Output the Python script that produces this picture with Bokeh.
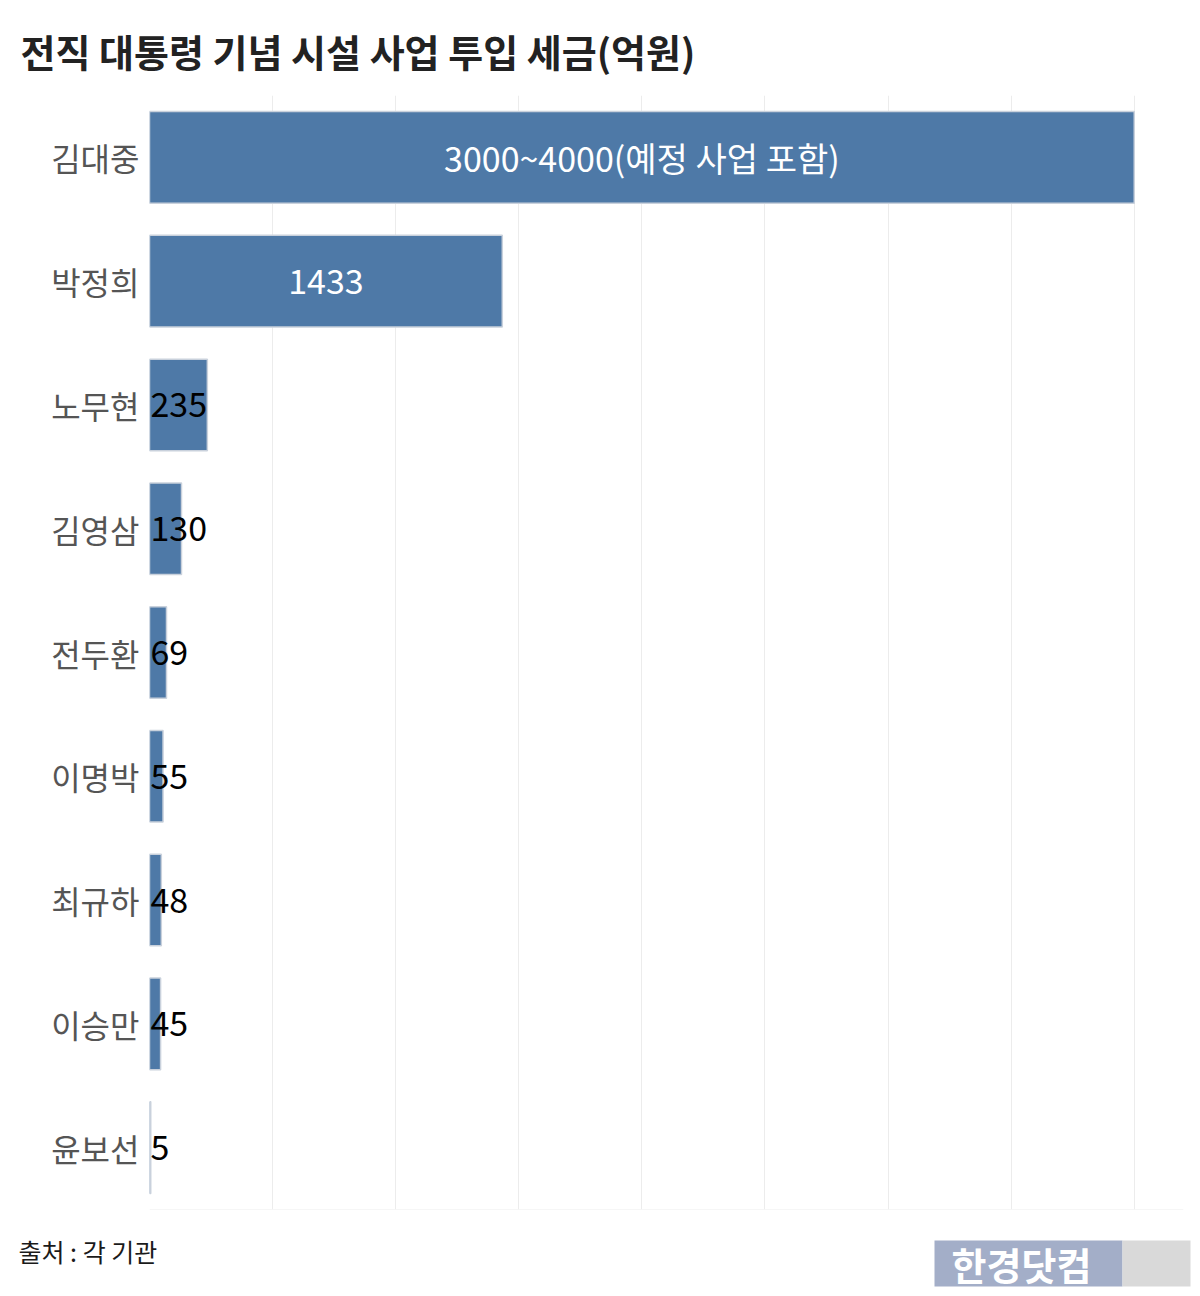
from bokeh.plotting import figure
from bokeh.layouts import column
from bokeh.models import ColumnDataSource, Range1d, FactorRange, Span, SingleIntervalTicker, Title
from bokeh.core.properties import value
from bokeh.embed import file_html
from bokeh.resources import INLINE

FONT = "Noto Sans CJK KR"

names = ["김대중", "박정희", "노무현", "김영삼", "전두환", "이명박", "최규하", "이승만", "윤보선"]
values = [4000, 1433, 235, 130, 69, 55, 48, 45, 5]
labels = ["3000~4000(예정 사업 포함)", "1433", "235", "130", "69", "55", "48", "45", "5"]
title_text = "전직 대통령 기념 시설 사업 투입 세금(억원)"
source_text = "출처 : 각 기관"
logo_text = "한경닷컴"

src = ColumnDataSource(dict(name=names, value=values, label=labels))

big = [i for i, v in enumerate(values) if v >= 1000]
small = [i for i, v in enumerate(values) if v < 1000]
src_in = ColumnDataSource(dict(name=[names[i] for i in big],
                               x=[values[i] / 2 for i in big],
                               label=[labels[i] for i in big]))
src_out = ColumnDataSource(dict(name=[names[i] for i in small],
                                x=[0 for i in small],
                                label=[labels[i] for i in small]))

p = figure(width=1200, height=1210,
           y_range=FactorRange(factors=names[::-1]),
           x_range=Range1d(0, 4200),
           output_backend="svg", toolbar_location=None,
           min_border_left=149, min_border_right=17,
           min_border_top=95, min_border_bottom=1)
p.frame_align = False
p.outline_line_color = None
p.background_fill_color = "white"
p.border_fill_color = "white"

p.hbar(y="name", right="value", left=0, height=0.74, source=src,
       fill_color="#4e79a7", line_color="#c9d1dc", line_width=1.5)

p.text(x="x", y="name", text="label", source=src_in, text_align="center",
       text_baseline="middle", text_color="white", text_font=value(FONT),
       text_font_size="34px")
p.text(x="x", y="name", text="label", source=src_out, text_align="left",
       text_baseline="middle", text_color="black", text_font=value(FONT),
       text_font_size="34px", x_offset=1)

p.xaxis.visible = False
p.xgrid.ticker = SingleIntervalTicker(interval=500)
p.xgrid.grid_line_color = "#ececec"
p.ygrid.grid_line_color = None
p.add_layout(Span(location=0, dimension="width", line_color="#eeeeee", line_width=1))

p.yaxis.axis_line_color = None
p.yaxis.major_tick_line_color = None
p.yaxis.minor_tick_line_color = None
p.yaxis.major_label_text_font = FONT
p.yaxis.major_label_text_font_size = "32px"
p.yaxis.major_label_text_color = "#555555"
p.yaxis.major_label_standoff = 4

p.add_layout(Title(text=title_text, text_font=FONT, text_font_size="38px",
                   text_font_style="bold", text_color="#222222", align="left",
                   offset=-129, standoff=35), "above")

# footer: source note and logo
f = figure(width=1200, height=86, x_range=Range1d(0, 1200), y_range=Range1d(1296, 1210),
           output_backend="svg", toolbar_location=None,
           min_border=0, min_border_left=0, min_border_right=0,
           min_border_top=0, min_border_bottom=0)
f.frame_align = False
f.axis.visible = False
f.grid.visible = False
f.outline_line_color = None
f.background_fill_color = "white"
f.border_fill_color = "white"

f.text(x=[18], y=[1250], text=[source_text], text_font=value(FONT),
       text_font_size="25px", text_color="#1a1a1a", text_baseline="middle")
f.quad(left=[934, 1122], right=[1122, 1190], top=[1240, 1240], bottom=[1286, 1286],
       fill_color=["#a3aec8", "#d9d9d9"], line_color=None)
f.text(x=[1021], y=[1263], text=[logo_text], text_font=value(FONT),
       text_font_size="38px", text_font_style="bold", text_color="white",
       text_align="center", text_baseline="middle")

layout = column(p, f, spacing=0)
open("out.html", "w").write(file_html(layout, INLINE))
